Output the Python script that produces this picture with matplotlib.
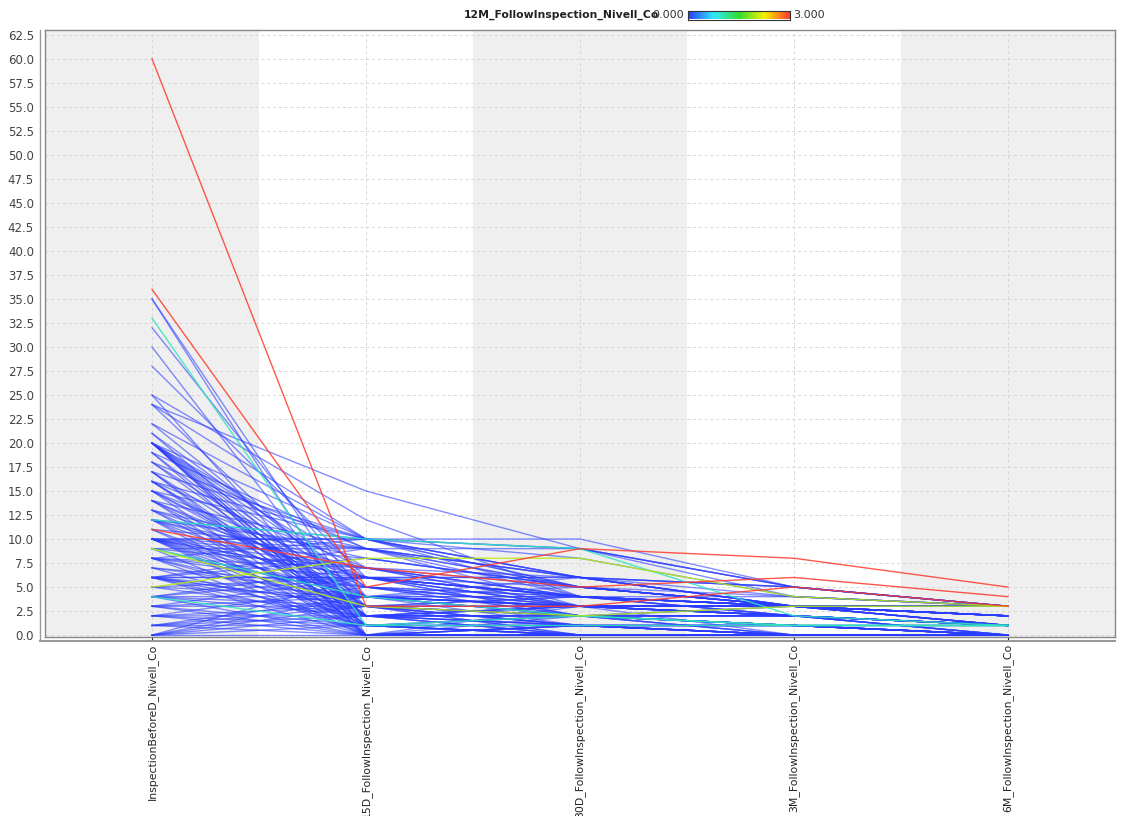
import matplotlib
matplotlib.use("Agg")
import matplotlib.pyplot as plt
from matplotlib.colors import LinearSegmentedColormap, Normalize
from matplotlib.lines import Line2D
import numpy as np

axis_names = ["InspectionBeforeD_Nivell_Co", "15D_FollowInspection_Nivell_Co",
              "30D_FollowInspection_Nivell_Co", "3M_FollowInspection_Nivell_Co",
              "6M_FollowInspection_Nivell_Co"]
color_name = "12M_FollowInspection_Nivell_Co"

# records: (before, 15D, 30D, 3M, 6M, 12M)
red_records = [
    (60, 3, 3, 5, 3, 3),
    (36, 5, 9, 8, 5, 3),
    (11, 7, 5, 6, 4, 3),
]
yellow_records = [
    (5, 8, 8, 4, 3, 2),
    (9, 3, 2, 3, 3, 2),
]
cyan_records = [
    (33, 1, 2, 1, 1, 1),
    (12, 10, 9, 2, 1, 1),
    (4, 1, 1, 1, 1, 1),
    (9, 4, 2, 1, 1, 1),
]
blue_high = [
    (35, 0, 0, 0, 0, 0), (35, 2, 1, 0, 0, 0), (32, 4, 3, 3, 2, 0), (30, 1, 0, 0, 0, 0),
    (28, 6, 4, 3, 3, 0), (25, 12, 4, 2, 1, 0), (25, 0, 1, 0, 0, 0), (24, 15, 9, 5, 3, 0),
    (24, 3, 2, 1, 0, 0), (22, 10, 6, 3, 3, 0), (21, 2, 0, 0, 0, 0), (21, 5, 3, 2, 1, 0),
    (20, 0, 0, 0, 0, 0), (20, 1, 1, 0, 0, 0), (20, 2, 2, 1, 0, 0), (20, 3, 0, 0, 0, 0),
    (20, 4, 3, 3, 3, 0), (20, 0, 2, 1, 0, 0), (20, 6, 4, 2, 1, 0), (20, 1, 0, 0, 0, 0),
    (19, 0, 0, 0, 0, 0), (19, 9, 5, 3, 2, 0), (18, 2, 1, 0, 0, 0), (18, 4, 2, 3, 1, 0),
    (17, 0, 1, 1, 0, 0), (17, 3, 3, 2, 0, 0), (17, 10, 9, 5, 3, 0), (16, 1, 0, 0, 0, 0),
    (16, 7, 3, 3, 2, 0), (16, 2, 2, 0, 0, 0), (15, 0, 0, 0, 0, 0), (15, 4, 6, 3, 3, 0),
    (15, 10, 4, 3, 1, 0), (15, 3, 1, 1, 0, 0),
]
blue_mid = [
    (14, 2, 0, 0, 0, 0), (14, 5, 2, 2, 1, 0), (14, 0, 3, 0, 0, 0), (13, 1, 2, 1, 0, 0),
    (13, 8, 5, 3, 2, 0), (13, 3, 0, 0, 0, 0), (12, 10, 6, 5, 3, 0), (12, 4, 4, 3, 2, 0),
    (12, 0, 1, 0, 0, 0), (12, 2, 3, 2, 1, 0), (12, 6, 2, 1, 0, 0), (11, 9, 5, 4, 3, 0),
    (11, 1, 0, 0, 0, 0), (11, 3, 2, 2, 0, 0), (10, 10, 10, 5, 3, 0), (10, 9, 9, 5, 3, 0),
    (10, 10, 8, 4, 3, 0), (10, 6, 4, 3, 2, 0), (10, 0, 0, 0, 0, 0), (10, 3, 2, 1, 1, 0),
    (10, 4, 1, 0, 0, 0), (10, 2, 3, 3, 1, 0), (10, 7, 3, 2, 0, 0), (10, 1, 2, 0, 0, 0),
    (9, 4, 4, 3, 3, 0), (9, 9, 6, 3, 2, 0), (9, 0, 0, 0, 0, 0), (8, 3, 1, 1, 0, 0),
    (8, 6, 5, 3, 3, 0), (8, 2, 2, 2, 1, 0), (8, 0, 0, 0, 0, 0), (8, 10, 9, 4, 3, 0),
]
blue_low = [
    (7, 5, 3, 3, 2, 0), (7, 1, 1, 0, 0, 0), (7, 4, 2, 2, 0, 0), (6, 6, 4, 3, 3, 0),
    (6, 2, 0, 0, 0, 0), (6, 3, 3, 2, 1, 0), (6, 0, 1, 0, 0, 0), (6, 4, 2, 1, 0, 0),
    (6, 6, 6, 5, 3, 0), (6, 1, 0, 0, 0, 0), (6, 3, 4, 3, 2, 0), (5, 2, 2, 1, 0, 0),
    (5, 4, 3, 3, 1, 0), (4, 4, 5, 3, 3, 0), (4, 0, 0, 0, 0, 0), (4, 3, 1, 1, 0, 0),
    (4, 2, 3, 2, 1, 0), (4, 6, 2, 0, 0, 0), (3, 3, 2, 2, 1, 0), (3, 1, 0, 0, 0, 0),
    (3, 4, 3, 3, 2, 0), (3, 0, 1, 0, 0, 0), (2, 2, 2, 1, 0, 0), (2, 3, 4, 3, 3, 0),
    (2, 0, 0, 0, 0, 0), (2, 1, 1, 1, 1, 0), (1, 1, 2, 2, 1, 0), (1, 3, 3, 3, 2, 0),
    (1, 0, 0, 0, 0, 0), (1, 2, 1, 0, 0, 0), (0, 1, 1, 0, 0, 0), (0, 2, 3, 2, 1, 0),
    (0, 0, 0, 0, 0, 0), (0, 4, 2, 3, 3, 0), (0, 3, 1, 1, 0, 0),
]
blue_extra = [
    (20, 10, 6, 4, 3, 0), (20, 7, 5, 3, 2, 0), (20, 5, 2, 1, 0, 0), (24, 10, 5, 3, 1, 0),
    (18, 9, 4, 3, 3, 0), (16, 10, 5, 3, 2, 0), (15, 6, 3, 2, 1, 0), (14, 9, 6, 3, 3, 0),
    (13, 6, 4, 2, 1, 0), (12, 9, 3, 3, 2, 0), (12, 7, 4, 4, 3, 0), (10, 8, 5, 3, 3, 0),
    (10, 6, 6, 3, 1, 0), (10, 5, 3, 2, 1, 0), (9, 7, 4, 3, 2, 0), (8, 7, 6, 5, 3, 0),
    (8, 5, 4, 3, 1, 0), (6, 8, 5, 3, 2, 0), (6, 9, 6, 3, 3, 0), (5, 6, 3, 3, 2, 0),
    (4, 7, 4, 2, 1, 0), (3, 6, 3, 2, 0, 0), (2, 5, 4, 3, 3, 0), (1, 4, 3, 2, 1, 0),
    (0, 6, 4, 3, 2, 0), (22, 4, 3, 3, 1, 0), (19, 2, 1, 1, 0, 0), (17, 1, 0, 0, 0, 0),
    (16, 3, 2, 1, 1, 0), (14, 4, 3, 3, 3, 0),
]

cmap = LinearSegmentedColormap.from_list(
    "rm", [(0.0, "#2a3cff"), (0.25, "#30e8ff"), (0.5, "#30e030"),
           (0.75, "#f8f000"), (1.0, "#ff3a2a")])
norm = Normalize(0, 3)

W, H = 1126, 816
fig = plt.figure(figsize=(W / 100, H / 100), dpi=100)
ax = fig.add_axes([45 / W, 1 - 637 / H, 1070 / W, 607 / H])
ax.set_facecolor("white")

for i in range(0, 5, 2):
    ax.axvspan(i - 0.5, i + 0.5, color="#efefef", zorder=0, lw=0)

ax.set_xlim(-0.5, 4.5)
ax.set_ylim(-0.2, 63.0)
yt = np.arange(0, 62.6, 2.5)
ax.set_yticks(yt)
ax.set_yticklabels([f"{v:.1f}" for v in yt])
ax.set_xticks(range(5))
ax.set_xticklabels(axis_names, rotation=90, va="top", ha="center")
ax.tick_params(axis="y", labelsize=8.5, colors="#444444", length=0, pad=8)
ax.tick_params(axis="x", labelsize=7.8, colors="#222222", length=3, pad=2)
for lab in ax.get_yticklabels():
    lab.set_color("#444444")
for lab in ax.get_xticklabels():
    lab.set_color("#222222")
ax.grid(True, color="#d6d6d6", linestyle=(0, (3, 3)), linewidth=0.7, zorder=1)

xs = np.arange(5)
all_records = (blue_high + blue_mid + blue_low + blue_extra
               + cyan_records + yellow_records + red_records)
for rec in all_records:
    c = cmap(norm(rec[5]))
    alpha = 0.58 if rec[5] == 0 else 0.85
    ax.plot(xs, rec[:5], color=c, lw=1.0, alpha=alpha, zorder=3 + rec[5])

for s in ax.spines.values():
    s.set_color("#888888")
    s.set_linewidth(1.0)

# double frame lines like the original
fig.add_artist(Line2D([40 / W, 40 / W], [1 - 30 / H, 1 - 641 / H], color="#999999", lw=1.0))
fig.add_artist(Line2D([40 / W, 1115 / W], [1 - 641 / H, 1 - 641 / H], color="#999999", lw=1.5))

# colour legend
fig.text(659 / W, 1 - 15 / H, color_name, ha="right", va="center",
         fontsize=7.8, fontweight="bold", color="#222222")
fig.text(652 / W, 1 - 15 / H, "0.000", ha="left", va="center", fontsize=8, color="#333333")
cax = fig.add_axes([688 / W, 1 - 19.5 / H, 102 / W, 9 / H])
cax.imshow(np.linspace(0, 1, 256)[None, :], aspect="auto", cmap=cmap, extent=[0, 1, 0, 1])
cax.set_xticks([])
cax.set_yticks([])
for s in cax.spines.values():
    s.set_color("#333333")
    s.set_linewidth(0.8)
fig.text(793 / W, 1 - 15 / H, "3.000", ha="left", va="center", fontsize=8, color="#333333")

fig.savefig("out.png", dpi=100)
